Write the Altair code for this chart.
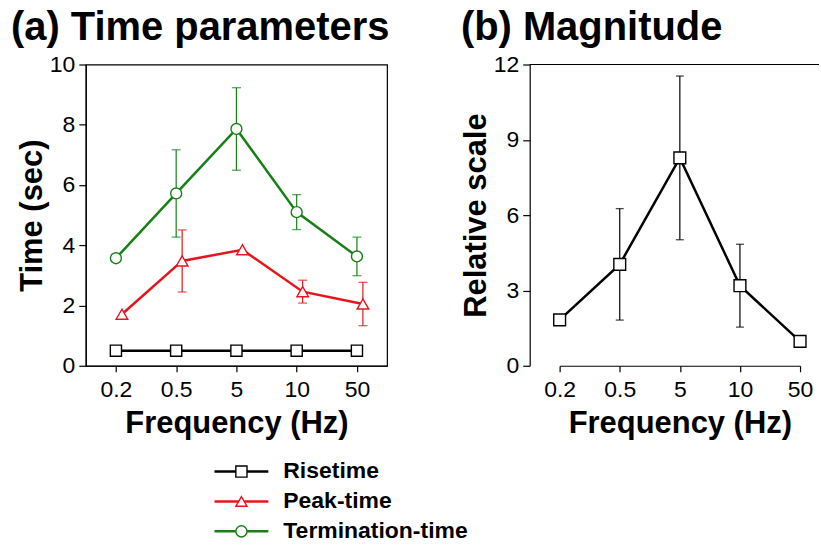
import altair as alt
import pandas as pd

# ---------------- data ----------------
freqs = ["0.2", "0.5", "5", "10", "50"]
series_names = ["Risetime", "Peak-time", "Termination-time"]

rise_time = [0.5, 0.5, 0.5, 0.5, 0.5]
rise_err = [0, 0, 0, 0, 0]
peak_time = [1.71, 3.48, 3.85, 2.46, 2.05]
peak_err = [0, 1.03, 0, 0.38, 0.72]
term_time = [3.57, 5.72, 7.86, 5.10, 3.63]
term_err = [0, 1.45, 1.37, 0.58, 0.64]

magnitude = [1.83, 4.04, 8.28, 3.19, 0.97]
magnitude_err = [0, 2.22, 3.26, 1.65, 0]

# ---------------- style ----------------
FONT = "Liberation Sans"
series_colors = ["#000000", "#e8141c", "#168016"]
series_shapes = ["square", "triangle-up", "circle"]
series_sizes = [125, 135, 120]
series_dx = [0, 6, 0]

rows = []
for name, vals, errs in zip(series_names, [rise_time, peak_time, term_time],
                            [rise_err, peak_err, term_err]):
    for f, v, e in zip(freqs, vals, errs):
        rows.append({"series": name, "freq": f, "value": v, "err": e,
                     "lo": v - e, "hi": v + e})
df_a = pd.DataFrame(rows)

df_b = pd.DataFrame({"freq": freqs, "value": magnitude, "err": magnitude_err})
df_b["lo"] = df_b["value"] - df_b["err"]
df_b["hi"] = df_b["value"] + df_b["err"]

# ---------------- panel (a) ----------------
xa = alt.X("freq:N", sort=freqs,
           scale=alt.Scale(type="point", domain=freqs),
           axis=alt.Axis(title="Frequency (Hz)", labelAngle=0))


def ya(field):
    return alt.Y(f"{field}:Q", scale=alt.Scale(domain=[0, 10], nice=False),
                 axis=alt.Axis(title="Time (sec)", values=[0, 2, 4, 6, 8, 10]))


line_layers, err_layers, pt_layers = [], [], []
for name, col, shp, sz, dx in zip(series_names, series_colors, series_shapes,
                                   series_sizes, series_dx):
    base = alt.Chart(df_a).transform_filter(alt.datum.series == name)
    line_layers.append(
        base.mark_line(color=col, strokeWidth=2.5, xOffset=dx).encode(x=xa, y=ya("value"))
    )
    bars = base.transform_filter(alt.datum.err > 0)
    err_layers.append(
        bars.mark_rule(color=col, strokeWidth=1.2, xOffset=dx).encode(x=xa, y=ya("lo"), y2="hi:Q")
    )
    err_layers.append(
        bars.mark_tick(color=col, size=9, thickness=1.3, xOffset=dx).encode(x=xa, y=ya("hi"))
    )
    err_layers.append(
        bars.mark_tick(color=col, size=9, thickness=1.3, xOffset=dx).encode(x=xa, y=ya("lo"))
    )
    pt_layers.append(
        base.mark_point(shape=shp, size=sz, filled=True, fill="white", stroke=col,
                        strokeWidth=1.4, opacity=1, xOffset=dx).encode(x=xa, y=ya("value"))
    )

data_a = alt.layer(*line_layers, *err_layers, *pt_layers)

leg = alt.Chart(pd.DataFrame({"series": series_names}))
ly = alt.Y("series:N", sort=series_names,
           scale=alt.Scale(type="point", domain=series_names, range=[408, 468], padding=0),
           axis=None)
leg_line = leg.mark_rule(strokeWidth=2.5).encode(
    x=alt.value(129), x2=alt.value(183), y=ly,
    color=alt.Color("series:N", scale=alt.Scale(domain=series_names, range=series_colors), legend=None))
leg_pt = leg.mark_point(filled=True, fill="white", strokeWidth=1.4, size=125, opacity=1).encode(
    x=alt.value(156), y=ly,
    stroke=alt.Stroke("series:N", scale=alt.Scale(domain=series_names, range=series_colors), legend=None),
    shape=alt.Shape("series:N", scale=alt.Scale(domain=series_names, range=series_shapes), legend=None))
leg_txt = leg.mark_text(align="left", baseline="middle", font=FONT, fontSize=23,
                        fontWeight="bold", color="black").encode(
    x=alt.value(198), y=ly, text="series:N")
legend_a = alt.layer(leg_line, leg_pt, leg_txt)

panel_a = alt.layer(data_a, legend_a).resolve_scale(y="independent").properties(
    width=302, height=302,
    title=alt.TitleParams("(a) Time parameters", anchor="start", frame="group", dx=-75),
)

# ---------------- panel (b) ----------------
xb = alt.X("freq:N", sort=freqs,
           scale=alt.Scale(type="point", domain=freqs, range=[30, 271], padding=0),
           axis=alt.Axis(title="Frequency (Hz)", labelAngle=0))


def yb(field):
    return alt.Y(f"{field}:Q", scale=alt.Scale(domain=[0, 12], nice=False),
                 axis=alt.Axis(title="Relative scale", values=[0, 3, 6, 9, 12]))


base_b = alt.Chart(df_b)
bars_b = base_b.transform_filter(alt.datum.err > 0)
top_edge = base_b.transform_aggregate(n="count()").mark_rule(
    color="black", strokeWidth=1.2).encode(x=alt.value(0), x2=alt.value(290), y=alt.value(0))
panel_b = alt.layer(
    base_b.mark_line(color="black", strokeWidth=2.5).encode(x=xb, y=yb("value")),
    bars_b.mark_rule(color="black", strokeWidth=1.2).encode(x=xb, y=yb("lo"), y2="hi:Q"),
    bars_b.mark_tick(color="black", size=8, thickness=1.3).encode(x=xb, y=yb("hi")),
    bars_b.mark_tick(color="black", size=8, thickness=1.3).encode(x=xb, y=yb("lo")),
    base_b.mark_point(shape="square", size=140, filled=True, fill="white", stroke="black",
                      strokeWidth=1.4, opacity=1).encode(x=xb, y=yb("value")),
    top_edge,
).properties(
    width=290, height=302,
    view=alt.ViewBackground(stroke="transparent"),
    title=alt.TitleParams("(b) Magnitude", anchor="start", frame="group", dx=-69),
)

chart = alt.hconcat(panel_a, panel_b, spacing=143, bounds="flush").properties(
    padding={"left": 10, "top": 6, "right": 0, "bottom": 0}
).configure_view(
    stroke="black", strokeWidth=1.2
).configure_axis(
    labelFont=FONT, labelFontSize=23, labelColor="black",
    titleFont=FONT, titleFontSize=31, titleFontWeight="bold", titleColor="black",
    domainColor="black", domainWidth=1.2, tickColor="black", tickWidth=1.2, grid=False,
).configure_axisX(
    tickSize=6, labelPadding=7, titlePadding=7,
).configure_axisY(
    tickSize=7, labelPadding=4, titlePadding=1,
).configure_title(
    font=FONT, fontSize=40, fontWeight="bold", color="black", offset=6,
)

chart.save("out.html", embed_options={"renderer": "svg", "actions": False})
